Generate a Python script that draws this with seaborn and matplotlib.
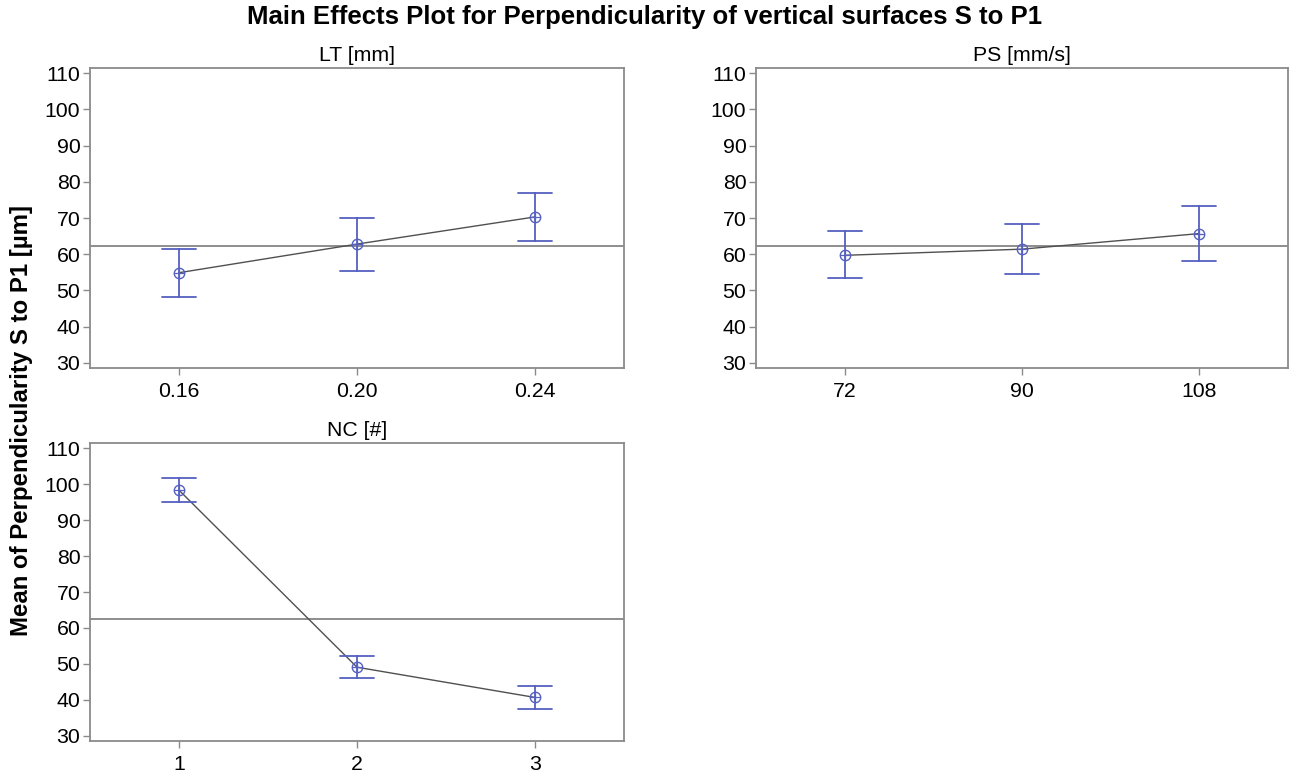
import numpy as np
import pandas as pd
import matplotlib
matplotlib.use("Agg")
import matplotlib.pyplot as plt
import seaborn as sns

# ---- data ----
lt_levels = ["0.16", "0.20", "0.24"]
lt_mean = [54.9, 62.8, 70.3]
lt_low = [48.1, 55.4, 63.6]
lt_high = [61.5, 69.9, 76.8]

ps_levels = ["72", "90", "108"]
ps_mean = [59.7, 61.4, 65.7]
ps_low = [53.4, 54.5, 58.2]
ps_high = [66.3, 68.3, 73.4]

nc_levels = ["1", "2", "3"]
nc_mean = [98.3, 49.1, 40.7]
nc_low = [95.0, 46.1, 37.5]
nc_high = [101.6, 52.2, 44.0]

grand_mean = 62.4
panel_titles = ["LT [mm]", "PS [mm/s]", "NC [#]"]
y_ticks = [30, 40, 50, 60, 70, 80, 90, 100, 110]

title = "Main Effects Plot for Perpendicularity of vertical surfaces S to P1"
ylabel = "Mean of Perpendicularity S to P1 [µm]"

sns.set_theme(style="white")
plt.rcParams["font.family"] = ["Liberation Sans", "DejaVu Sans"]
plt.rcParams["text.color"] = "black"
plt.rcParams["axes.labelcolor"] = "black"
plt.rcParams["axes.titlecolor"] = "black"

BLUE = "#5560c0"
LINE = "#505050"
FRAME = "#8a8a8a"

W, H = 1290, 774
fig = plt.figure(figsize=(W / 100, H / 100), dpi=100)


def px_axes(left, top, right, bottom):
    return fig.add_axes([left / W, 1 - bottom / H, (right - left) / W, (bottom - top) / H])


axes = [
    px_axes(90, 68, 624, 368),
    px_axes(756, 68, 1288, 368),
    px_axes(90, 443, 624, 741),
]

panels = [
    (lt_levels, lt_mean, lt_low, lt_high),
    (ps_levels, ps_mean, ps_low, ps_high),
    (nc_levels, nc_mean, nc_low, nc_high),
]

for ax, (levels, mean, low, high), ttl in zip(axes, panels, panel_titles):
    rows = []
    for lv, m, lo, hi in zip(levels, mean, low, high):
        for v in (lo, m, hi):
            rows.append({"level": lv, "value": v})
    df = pd.DataFrame(rows)

    ax.axhline(grand_mean, color="#7a7a7a", lw=1.2, zorder=1)
    # connecting line
    sns.pointplot(data=df, x="level", y="value", order=levels, estimator="median",
                  errorbar=None, color=LINE, markers="", linestyles="-",
                  ax=ax, zorder=2)
    for ln in ax.lines[1:]:
        ln.set_linewidth(1.0)
    # error bars + open circle markers
    sns.pointplot(data=df, x="level", y="value", order=levels, estimator="median",
                  errorbar=lambda x: (np.min(x), np.max(x)), capsize=0.19,
                  color=BLUE, markers="o", linestyles="none",
                  err_kws={"linewidth": 1.3}, ax=ax, zorder=3,
                  markerfacecolor="none", markeredgewidth=1.0, markersize=7.5)
    # plus inside markers
    sns.pointplot(data=df, x="level", y="value", order=levels, estimator="median",
                  errorbar=None, color=BLUE, markers="+", linestyles="none",
                  ax=ax, zorder=3, markersize=7.5, markeredgewidth=0.9)

    ax.set_xlim(-0.5, 2.5)
    ax.set_ylim(28.6, 111.4)
    ax.set_yticks(y_ticks)
    ax.set_xlabel("")
    ax.set_ylabel("")
    ax.set_title(ttl, fontsize=15.3, pad=5, color="black")
    for sp in ax.spines.values():
        sp.set_visible(True)
        sp.set_color(FRAME)
        sp.set_linewidth(1.3)
    ax.tick_params(axis="both", which="major", direction="out", length=5,
                   width=1.0, color=FRAME, labelsize=15.3, labelcolor="black",
                   bottom=True, left=True, pad=2)
    ax.tick_params(axis="x", pad=5)

fig.suptitle(title, x=0.5, y=1 - 5 / H, va="top", fontsize=18.5,
             fontweight="bold", color="black")
fig.text(22 / W, 1 - 421 / H, ylabel, rotation=90, ha="center", va="center",
         fontsize=17.3, fontweight="bold", color="black")

fig.savefig("out.png", dpi=100)
